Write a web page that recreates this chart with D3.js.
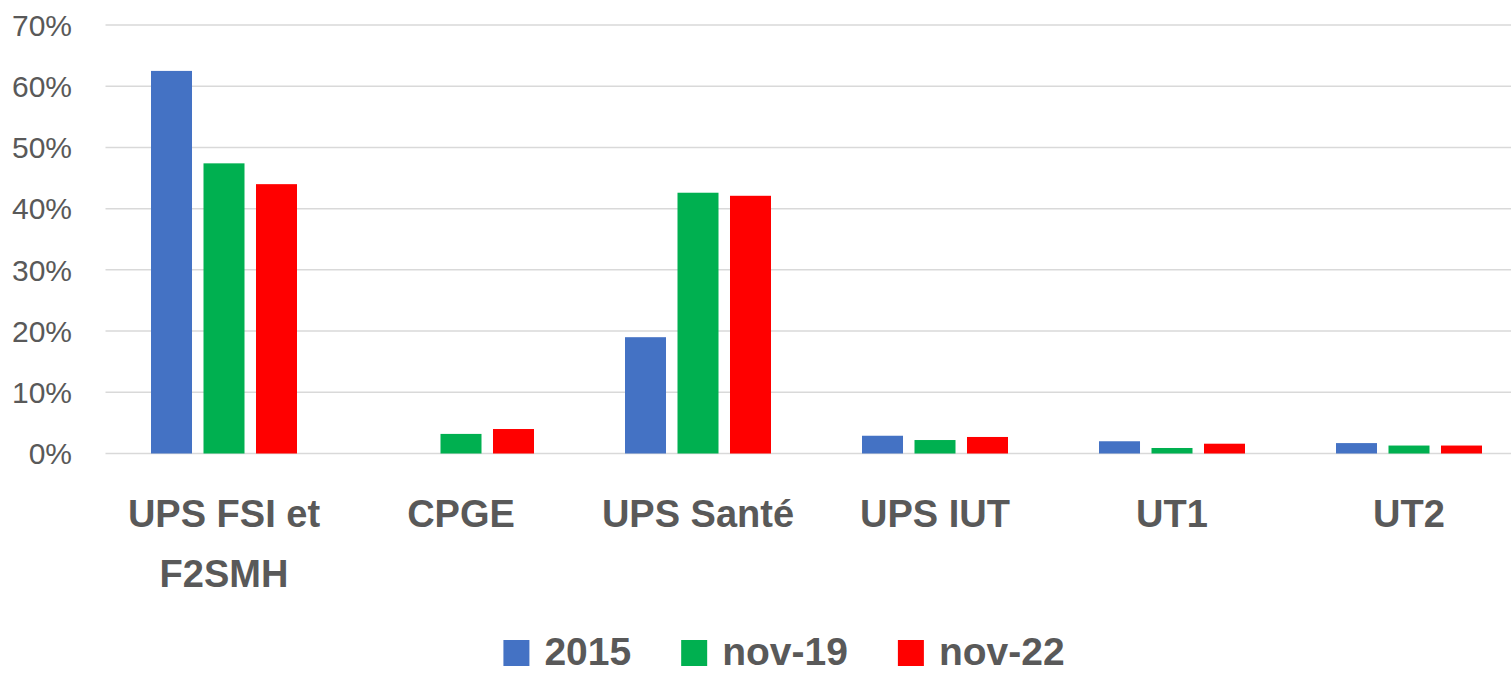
<!DOCTYPE html>
<html>
<head>
<meta charset="utf-8">
<script src="https://cdn.jsdelivr.net/npm/d3@7"></script>
<style>
  body { margin: 0; background: #fff; }
  text { font-family: "Liberation Sans", Arial, Helvetica, sans-serif; fill: #595959; }
</style>
</head>
<body>
<div id="chart"></div>
<script>
// values
var categories = ["UPS FSI et F2SMH", "CPGE", "UPS Santé", "UPS IUT", "UT1", "UT2"];
var seriesNames = ["2015", "nov-19", "nov-22"];
var values2015 = [0.625, 0, 0.190, 0.029, 0.020, 0.017];
var valuesNov19 = [0.474, 0.032, 0.426, 0.022, 0.009, 0.013];
var valuesNov22 = [0.440, 0.040, 0.421, 0.027, 0.016, 0.013];
var yTicks = [0, 0.1, 0.2, 0.3, 0.4, 0.5, 0.6, 0.7];

var colors = ["#4472C4", "#00B050", "#FF0000"];
var seriesValues = [values2015, valuesNov19, valuesNov22];

var width = 1511, height = 673;
var plotLeft = 105.5, plotRight = 1527.5, plotTop = 25, plotBottom = 453.5;

var svg = d3.select("#chart").append("svg")
    .attr("width", width)
    .attr("height", height);

var x0 = d3.scaleBand()
    .domain(categories)
    .range([plotLeft, plotRight])
    .paddingInner(0.384)
    .paddingOuter(0.192);

var x1 = d3.scaleBand()
    .domain(seriesNames)
    .range([0, x0.bandwidth()])
    .paddingInner(0.219);

var y = d3.scaleLinear().domain([0, 0.7]).range([plotBottom, plotTop]);

// gridlines
svg.append("g")
    .selectAll("line")
    .data(yTicks)
    .join("line")
    .attr("x1", plotLeft)
    .attr("x2", width)
    .attr("y1", d => y(d))
    .attr("y2", d => y(d))
    .attr("stroke", "#d9d9d9")
    .attr("stroke-width", 1.5);

// y axis labels
svg.append("g")
    .selectAll("text")
    .data(yTicks)
    .join("text")
    .attr("x", 72)
    .attr("y", d => y(d))
    .attr("dy", "0.36em")
    .style("text-anchor", "end")
    .style("font-size", "30px")
    .text(d => d3.format(".0%")(d));

// bars
var rows = categories.map((c, i) => ({
    category: c,
    values: seriesNames.map((s, j) => ({ series: s, value: seriesValues[j][i], color: colors[j] }))
}));

svg.append("g")
    .selectAll("g")
    .data(rows)
    .join("g")
    .attr("transform", d => "translate(" + x0(d.category) + ",0)")
    .selectAll("rect")
    .data(d => d.values)
    .join("rect")
    .attr("x", d => x1(d.series))
    .attr("width", x1.bandwidth())
    .attr("y", d => y(d.value))
    .attr("height", d => y(0) - y(d.value))
    .attr("fill", d => d.color);

// category labels, wrapped
var catLabels = svg.append("g")
    .selectAll("text")
    .data(categories)
    .join("text")
    .attr("x", d => x0(d) + x0.bandwidth() / 2)
    .attr("y", 526.5)
    .style("text-anchor", "middle")
    .style("font-size", "38px")
    .style("font-weight", "bold");

catLabels.each(function(d) {
    var el = d3.select(this);
    var cx = el.attr("x");
    var words = d.split(" ");
    var line = [];
    var tspan = el.append("tspan").attr("x", cx).attr("dy", 0);
    words.forEach(w => {
        line.push(w);
        tspan.text(line.join(" "));
        if (tspan.node().getComputedTextLength() > 215 && line.length > 1) {
            line.pop();
            tspan.text(line.join(" "));
            line = [w];
            tspan = el.append("tspan").attr("x", cx).attr("dy", 60).text(w);
        }
    });
});

// legend
var legend = svg.append("g");
var items = legend.selectAll("g")
    .data(seriesNames)
    .join("g");

items.append("rect")
    .attr("x", 0)
    .attr("y", 640)
    .attr("width", 26)
    .attr("height", 26)
    .attr("fill", (d, i) => colors[i]);

items.append("text")
    .attr("x", 41)
    .attr("y", 665)
    .style("font-size", "39px")
    .style("font-weight", "bold")
    .text(d => d);

var gap = 50;
var offsets = [];
var total = 0;
items.each(function(d, i) {
    var w = 41 + d3.select(this).select("text").node().getComputedTextLength();
    offsets.push(total);
    total += w + gap;
});
total -= gap;
var legendStart = 784 - total / 2;
items.attr("transform", (d, i) => "translate(" + (legendStart + offsets[i]) + ",0)");
</script>
</body>
</html>
